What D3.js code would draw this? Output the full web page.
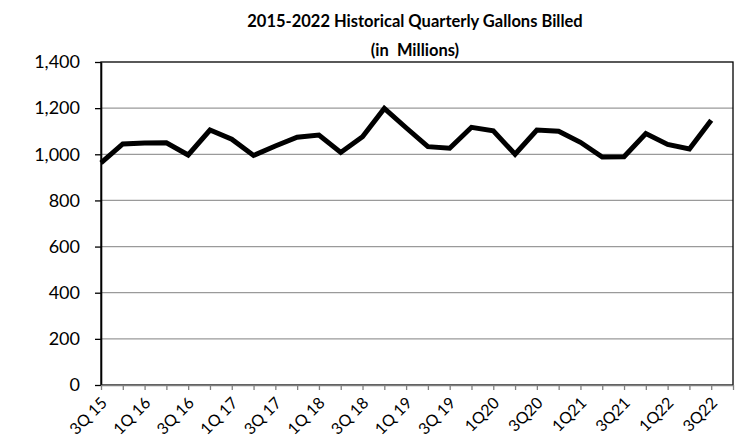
<!DOCTYPE html>
<html>
<head>
<meta charset="utf-8">
<script src="https://cdn.jsdelivr.net/npm/d3@7"></script>
<style>
  body { margin: 0; background: #fff; overflow: hidden; }
  svg text { font-family: Lato, "Open Sans", sans-serif; }
</style>
</head>
<body>
<div id="chart"></div>
<script>
// quarters, 3Q15 .. 3Q22
const quarters = ['3Q15','4Q15','1Q16','2Q16','3Q16','4Q16','1Q17','2Q17','3Q17','4Q17',
                  '1Q18','2Q18','3Q18','4Q18','1Q19','2Q19','3Q19','4Q19','1Q20','2Q20',
                  '3Q20','4Q20','1Q21','2Q21','3Q21','4Q21','1Q22','2Q22','3Q22']
const gallons = [963, 1045, 1049, 1050, 997, 1105, 1065, 995, 1036, 1074,
                 1083, 1008, 1076, 1199, 1115, 1033, 1026, 1117, 1102, 1000,
                 1105, 1100, 1052, 988, 989, 1090, 1043, 1023, 1148]
// every other quarter gets a label
const tickLabels = ['3Q 15','1Q 16','3Q 16','1Q 17','3Q 17','1Q 18','3Q 18','1Q 19','3Q 19',
                    '1Q20','3Q20','1Q21','3Q21','1Q22','3Q22']
const yTicks = [0, 200, 400, 600, 800, 1000, 1200, 1400]

const W = 751, H = 443
const m = {top: 62, right: 18, bottom: 58, left: 101}
const w = W - m.left - m.right
const h = H - m.top - m.bottom

const svg = d3.select('#chart').append('svg')
  .attr('width', W).attr('height', H)

svg.append('text')
  .attr('x', 415).attr('y', 27)
  .attr('text-anchor', 'middle')
  .style('font-weight', 'bold').style('font-size', '16.5px')
  .text('2015-2022 Historical Quarterly Gallons Billed')
svg.append('text')
  .attr('x', 415).attr('y', 56)
  .attr('text-anchor', 'middle')
  .style('font-weight', 'bold').style('font-size', '16.5px')
  .style('white-space', 'pre')
  .text('(in  Millions)')

const g = svg.append('g').attr('transform', `translate(${m.left},${m.top})`)

// one empty slot after the last quarter, like the original axis
const x = d3.scaleLinear().domain([0, quarters.length]).range([0, w])
const y = d3.scaleLinear().domain([0, 1400]).range([h, 0])

g.selectAll('.grid')
  .data(yTicks.filter(t => t > 0 && t < 1400))
  .enter().append('line')
  .attr('class', 'grid')
  .attr('x1', 0).attr('x2', w)
  .attr('y1', d => y(d)).attr('y2', d => y(d))
  .attr('stroke', '#9a9a9a').attr('stroke-width', 1.3)

// box
g.append('rect').attr('width', w).attr('height', h)
  .attr('fill', 'none').attr('stroke', '#000').attr('stroke-width', 1.3)

const yAxis = d3.axisLeft(y).tickValues(yTicks).tickSize(6).tickSizeOuter(0)
  .tickFormat(d3.format(','))
const ya = g.append('g').call(yAxis)
ya.select('.domain').attr('stroke', '#000').attr('stroke-width', 1.6)
ya.selectAll('line').attr('stroke', '#000').attr('stroke-width', 1.3)
ya.selectAll('text').style('font-size', '18px').attr('fill', '#000').attr('x', -21)

const xAxis = d3.axisBottom(x).tickValues(d3.range(0, quarters.length + 1))
  .tickSize(5).tickSizeOuter(0).tickFormat('')
const xa = g.append('g').attr('transform', `translate(0,${h})`).call(xAxis)
xa.select('.domain').attr('stroke', '#808080').attr('stroke-width', 1.6)
xa.selectAll('line').attr('stroke', '#808080').attr('stroke-width', 1.3)

g.selectAll('.xlab')
  .data(tickLabels)
  .enter().append('text')
  .attr('class', 'xlab')
  .attr('transform', (d, i) => `translate(${x(i * 2) + 7},${h + 19}) rotate(-45)`)
  .attr('text-anchor', 'end')
  .style('font-size', '16px')
  .text(d => d)

const line = d3.line().x((d, i) => x(i)).y(d => y(d))
g.append('path')
  .datum(gallons)
  .attr('d', line)
  .attr('fill', 'none')
  .attr('stroke', '#000')
  .attr('stroke-width', 5)
  .attr('stroke-linejoin', 'miter')
</script>
</body>
</html>
